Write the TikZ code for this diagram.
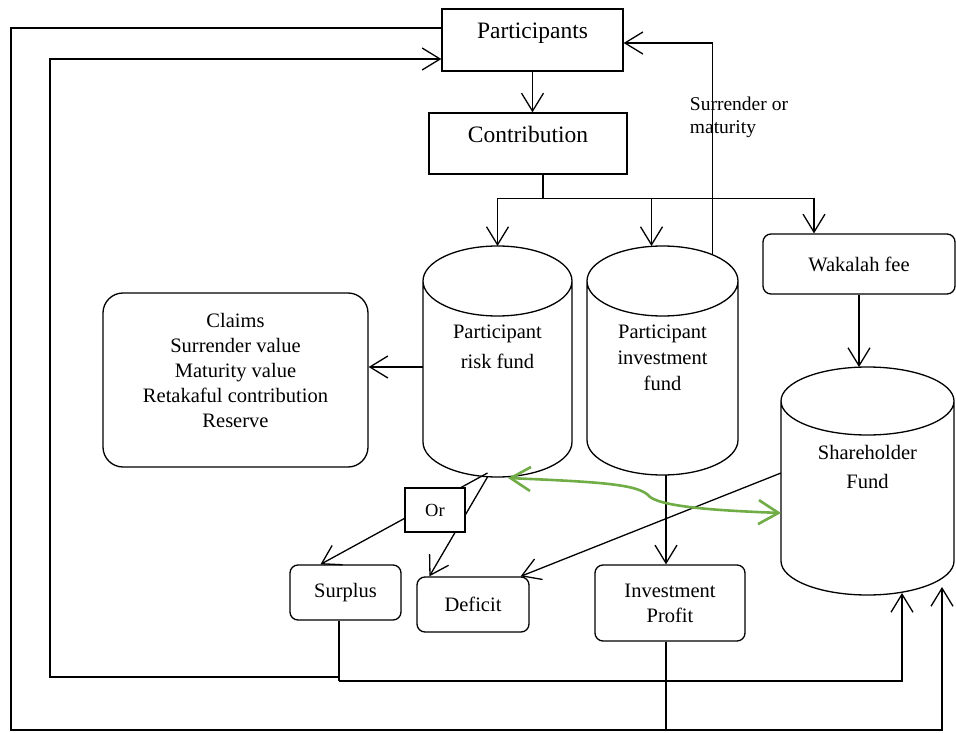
\documentclass[tikz,border=0pt]{standalone}
\usepackage{fontspec}
\setmainfont{Liberation Serif}
\usepackage{tikz}
\usetikzlibrary{shapes,arrows.meta,positioning}
\definecolor{leafgreen}{RGB}{112,173,71}
\newcommand\bigtxt{\fontsize{23.5pt}{27pt}\selectfont}
\newcommand\midtxt{\fontsize{20.5pt}{25pt}\selectfont}
\newcommand\smalltxt{\fontsize{19.5pt}{23pt}\selectfont}
% outline of a fund drum round its body node: name, x radius, y radius
\newcommand\drum[3]{\draw (#1.north west) -- (#1.south west)
    arc[start angle=180, end angle=360, x radius=#2, y radius=#3] -- (#1.north east)
    arc[start angle=0, end angle=360, x radius=#2, y radius=#3];}

\begin{document}
\begin{tikzpicture}[x=1pt, y=-1pt, line width=1.3pt, every node/.style={font=\midtxt}]
    \tikzstyle{box} = [rectangle, draw=black, fill=white, inner sep=2pt]
    \tikzstyle{rbox} = [box, rounded corners=8pt, align=center]
    \tikzstyle{fund} = [rectangle, inner sep=0pt, outer sep=0pt]
    \tikzstyle{arr} = [-{Straight Barb[length=18pt,width=22pt]}]
    \useasboundingbox (0,0) rectangle (956,733);

    \node (part) [box, minimum width=181pt, minimum height=62pt, text depth=19pt, font=\bigtxt] at (532.5,40) {Participants};
    \node (contr) [box, minimum width=198pt, minimum height=61pt, text depth=18pt, font=\bigtxt] at (528,143.5) {Contribution};
    \node (rfund) [fund, minimum width=149pt, minimum height=161pt] at (497.5,361.5) {};
    \drum{rfund}{74.5pt}{35pt}
    \node (rtxt) [below=40pt of rfund.north, align=center] {Participant\\[5pt]risk fund};
    \node (ifund) [fund, minimum width=151pt, minimum height=159pt] at (662.5,360.5) {};
    \drum{ifund}{75.5pt}{35pt}
    \node (itxt) [below=40pt of ifund.north, align=center] {Participant\\[1pt]investment\\[1pt]fund};
    \node (wak) [rbox, minimum width=192pt, minimum height=60pt] at (859,264) {Wakalah fee};
    \node (sfund) [fund, minimum width=173pt, minimum height=160pt] at (867.5,481) {};
    \drum{sfund}{86.5pt}{34pt}
    \node (stxt) [below=40pt of sfund.north, align=center] {Shareholder\\[4pt]Fund};
    \node (claims) [rbox, rounded corners=20pt, minimum width=265pt, minimum height=174pt, text depth=20pt] at (235.5,380)
        {Claims\\Surrender value\\Maturity value\\Retakaful contribution\\Reserve};
    \node (surp) [rbox, minimum width=111pt, minimum height=55pt] at (345.5,592.5) {Surplus};
    \node (def) [rbox, minimum width=112pt, minimum height=55pt] at (473,604.5) {Deficit};
    \node (invp) [rbox, minimum width=150pt, minimum height=76pt] at (670,603) {Investment\\Profit};
    \node (surr) [anchor=west, align=left, font=\smalltxt] at (686,117) {Surrender or\\maturity};

    % contribution split
    \draw [arr] (part.south) -- (part.south |- contr.north);
    \draw ([xshift=15pt]contr.south) -- ++(0,24) coordinate (split);
    \draw [arr] (split) -| ([yshift=35pt]rfund.north);
    \draw [arr] (split) -| ([xshift=-11pt,yshift=35pt]ifund.north);
    \draw [arr] (split) -| ([xshift=-45pt]wak.north);
    \draw [arr] ([xshift=50pt,yshift=26pt]ifund.north) |- ([yshift=-3pt]part.east);
    \draw [arr] (wak.south) -- ([yshift=34pt]sfund.north -| wak.south);

    % fund outflows
    \draw [arr] ([yshift=-5.5pt]rfund.west) -- ([yshift=-5.5pt]rfund.west -| claims.east);
    \draw [arr] ([xshift=-10pt,yshift=-31pt]rfund.south) -- ([xshift=-25pt]surp.north);
    \draw [arr] ([xshift=-10pt,yshift=-35pt]rfund.south) -- ([xshift=13pt]def.north west);
    \draw [arr] ([xshift=3.5pt,yshift=-35pt]ifund.south) -- ([xshift=3.5pt]ifund.south |- invp.north);
    \draw [arr] ([yshift=8pt]sfund.west) -- ([xshift=-9pt]def.north east);
    \node (or) [box, minimum width=60pt, minimum height=44pt, font=\fontsize{18.5pt}{22pt}\selectfont] at (435,510) {Or};

    \draw [leafgreen, line width=2.6pt, {Straight Barb[length=20pt,width=24pt]}-{Straight Barb[length=20pt,width=24pt]}]
        ([xshift=10.5pt,yshift=-36pt]rfund.south) .. controls (600,482) and (640,484) .. (650,497)
        .. controls (665,508) and (730,511) .. ([yshift=-32pt]sfund.west);

    % loops back to participants and shareholders
    \coordinate (sj) at (339,681);
    \coordinate (inL) at (50,677);
    \coordinate (inR) at (902,681);
    \coordinate (outL) at (11,730);
    \coordinate (outR) at (942,730);
    \draw ([xshift=-6.5pt]surp.south) -- (sj);
    \draw [arr] (sj) -- (inR) -- ([xshift=34.5pt,yshift=-32pt]sfund.south);
    \draw [arr] ([yshift=4pt]sj) -- (inL) |- ([yshift=-19pt]part.west);
    \draw ([xshift=-4pt]invp.south) -- ([xshift=-4pt]invp.south |- outR);
    \draw [arr, {Straight Barb[length=18pt,width=22pt]}-] ([xshift=74.5pt,yshift=-26pt]sfund.south) -- (outR) -- (outL) |- ([yshift=12pt]part.west);
\end{tikzpicture}
\end{document}
